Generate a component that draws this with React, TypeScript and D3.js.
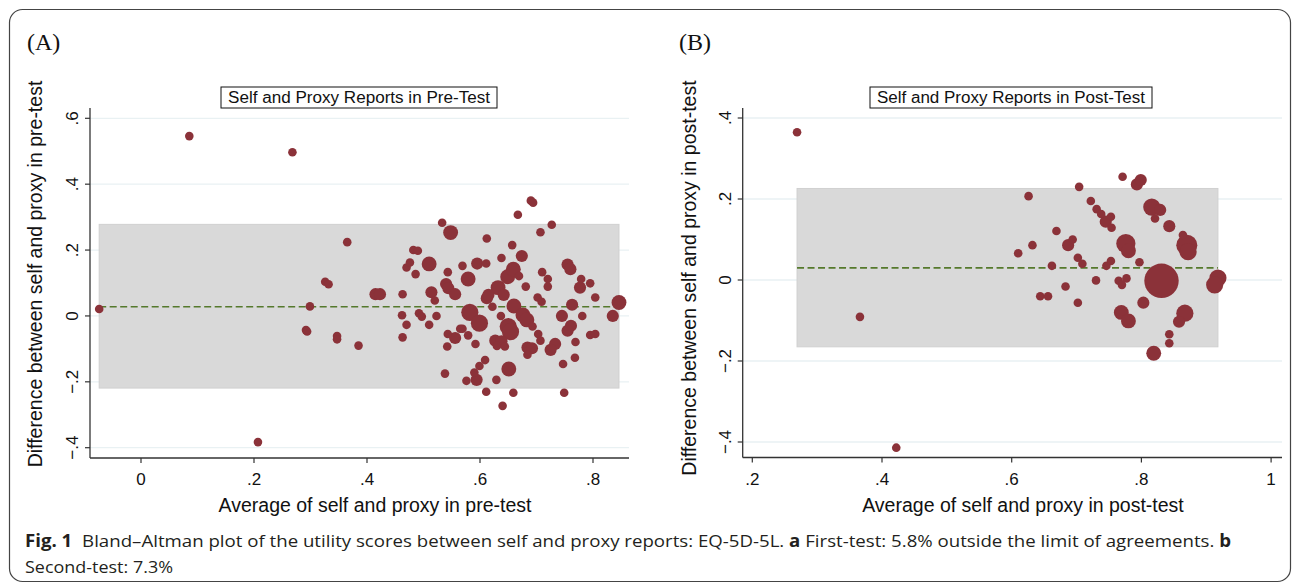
import React from 'react'
import * as d3 from 'd3'

// pre-test: average of self & proxy, difference, frequency weight
const preAvg = [-0.074, 0.0855, 0.268, 0.207, 0.365, 0.326, 0.332, 0.299, 0.292, 0.294, 0.347, 0.347, 0.385,
  0.415, 0.423, 0.463, 0.462, 0.470, 0.463, 0.470, 0.476, 0.482, 0.490, 0.486, 0.492, 0.497, 0.510, 0.510,
  0.514, 0.520, 0.523, 0.533, 0.548, 0.543, 0.540, 0.544, 0.556, 0.543, 0.556, 0.565, 0.569, 0.542, 0.538,
  0.569, 0.579, 0.579, 0.595, 0.611, 0.612, 0.582, 0.599, 0.592, 0.609, 0.599, 0.590, 0.576, 0.594, 0.611,
  0.612, 0.615, 0.622, 0.632, 0.642, 0.638, 0.657, 0.674, 0.667, 0.690, 0.694, 0.707, 0.727, 0.649, 0.659,
  0.669, 0.681, 0.660, 0.637, 0.650, 0.654, 0.676, 0.683, 0.693, 0.703, 0.707, 0.627, 0.638, 0.630, 0.644,
  0.651, 0.629, 0.659, 0.640, 0.684, 0.692, 0.684, 0.702, 0.709, 0.710, 0.720, 0.720, 0.733, 0.725, 0.747,
  0.749, 0.745, 0.761, 0.755, 0.769, 0.768, 0.763, 0.755, 0.760, 0.777, 0.779, 0.795, 0.781, 0.804, 0.795,
  0.804, 0.846, 0.835]
const preDiff = [0.021, 0.546, 0.497, -0.383, 0.224, 0.104, 0.096, 0.029, -0.043, -0.047, -0.061, -0.071, -0.090,
  0.066, 0.066, 0.066, 0.002, -0.027, -0.065, 0.147, 0.162, 0.200, 0.198, 0.127, 0.008, -0.002, 0.158, -0.027,
  0.072, 0.047, 0.000, 0.283, 0.253, 0.133, 0.097, 0.084, 0.066, -0.055, -0.067, -0.039, -0.039, -0.093, -0.175,
  0.152, 0.112, -0.059, 0.159, 0.159, 0.235, 0.011, -0.022, -0.085, -0.134, -0.152, -0.172, -0.197, -0.194, -0.230,
  0.054, 0.064, 0.028, 0.086, 0.064, 0.176, 0.215, 0.182, 0.307, 0.350, 0.344, 0.254, 0.277, 0.119, 0.142,
  0.121, 0.089, 0.030, 0.000, -0.032, -0.048, 0.003, -0.012, -0.032, -0.055, -0.075, -0.075, -0.077, -0.091, -0.093,
  -0.161, -0.194, -0.233, -0.273, -0.096, -0.098, -0.118, 0.056, 0.043, 0.133, 0.112, 0.089, -0.085, -0.103, -0.146,
  -0.233, 0.000, -0.030, -0.045, -0.079, -0.127, 0.034, 0.156, 0.142, 0.086, 0.112, 0.099, 0.000, 0.056, -0.058,
  -0.055, 0.041, 0.000]
const preN = [1, 1, 1, 1, 1, 1, 1, 1, 1, 1, 1, 1, 1,
  2, 2, 1, 1, 1, 1, 1, 1, 1, 1, 1, 1, 1, 3, 1,
  2, 1, 1, 1, 3, 1, 2, 2, 2, 1, 2, 1, 1, 1, 1,
  1, 3, 1, 2, 1, 1, 4, 4, 1, 1, 1, 1, 1, 2, 1,
  2, 2, 1, 3, 2, 1, 1, 2, 1, 1, 1, 1, 1, 3, 3,
  1, 1, 3, 1, 4, 4, 3, 3, 1, 1, 1, 2, 2, 1, 1,
  3, 1, 1, 1, 2, 2, 1, 1, 1, 1, 1, 1, 2, 2, 1,
  1, 2, 2, 2, 1, 1, 2, 2, 2, 2, 1, 1, 1, 1, 1,
  1, 3, 2]
const preMean = 0.028
const preLimits = [-0.219, 0.278]

// post-test
const postAvg = [0.269, 0.366, 0.422, 0.610, 0.626, 0.632, 0.669, 0.662, 0.644, 0.656, 0.683, 0.702, 0.687,
  0.694, 0.702, 0.709, 0.704, 0.722, 0.731, 0.738, 0.745, 0.753, 0.754, 0.746, 0.753, 0.730, 0.765, 0.777,
  0.770, 0.776, 0.780, 0.771, 0.793, 0.799, 0.797, 0.769, 0.780, 0.803, 0.819, 0.816, 0.829, 0.821, 0.843,
  0.831, 0.843, 0.843, 0.870, 0.864, 0.872, 0.867, 0.858, 0.918, 0.913]
const postDiff = [0.365, -0.091, -0.414, 0.066, 0.207, 0.086, 0.121, 0.035, -0.040, -0.040, -0.016, -0.056, 0.086,
  0.100, 0.055, 0.040, 0.230, 0.195, 0.175, 0.163, 0.144, 0.156, 0.129, 0.035, 0.047, -0.001, -0.002, 0.004,
  -0.012, 0.090, 0.072, 0.255, 0.236, 0.247, 0.044, -0.080, -0.101, -0.056, -0.181, 0.180, 0.173, 0.152, 0.133,
  -0.002, -0.134, -0.156, 0.086, 0.111, 0.070, -0.082, -0.103, 0.005, -0.012]
const postN = [1, 1, 1, 1, 1, 1, 1, 1, 1, 1, 1, 1, 2,
  1, 1, 1, 1, 1, 1, 1, 2, 1, 1, 1, 1, 1, 1, 1,
  1, 5, 3, 1, 2, 2, 1, 3, 3, 2, 3, 4, 2, 1, 2,
  16, 1, 1, 6, 1, 4, 4, 2, 4, 4]
const postMean = 0.030
const postLimits = [-0.165, 0.226]

const preXTicks = [0, 0.2, 0.4, 0.6, 0.8]
const preYTicks = [-0.4, -0.2, 0, 0.2, 0.4, 0.6]
const postXTicks = [0.2, 0.4, 0.6, 0.8, 1]
const postYTicks = [-0.4, -0.2, 0, 0.2, 0.4]

const MARKER = '#8b3239'
const fmt = (v: number) => {
  if (Math.abs(v) < 1e-9) return '0'
  if (Math.abs(v - 1) < 1e-9) return '1'
  const s = d3.format('.1f')(v)
  return s.replace('0.', '.')
}

const rScale = d3.scaleSqrt().domain([0, 1]).range([0, 4.3])

type PanelProps = {
  avg: number[]; diff: number[]; n: number[]; mean: number; limits: number[]
  xTicks: number[]; yTicks: number[]
  xRange: number[]; yRange: number[]; xDomain: number[]; yDomain: number[]
  plot: { l: number; r: number; t: number; b: number }
  letter: string; letterX: number
  title: string; titleBox: number[]
  xTitle: string; xTitleX: number
  yTitle: string; yTitleX: number; yTitleY: number
  yLabelX: number
}

function Panel(p: PanelProps) {
  const x = d3.scaleLinear().domain(p.xDomain).range(p.xRange)
  const y = d3.scaleLinear().domain(p.yDomain).range(p.yRange)
  const [x0, x1] = d3.extent(p.avg) as [number, number]
  const idx = d3.range(p.avg.length).sort((a, b) => p.n[b] - p.n[a])
  const font = '"Liberation Sans", Arial, sans-serif'
  return (
    <g>
      <text x={p.letterX} y={50} fontFamily='"Liberation Serif", "Times New Roman", serif' fontSize={24} fill="#111">{p.letter}</text>
      {p.yTicks.map(t => (
        <line key={'g' + t} x1={p.plot.l} x2={p.plot.r} y1={y(t)} y2={y(t)} stroke="#e9f1f3" strokeWidth={1.3} />
      ))}
      <rect x={x(x0)} y={y(p.limits[1])} width={x(x1) - x(x0)} height={y(p.limits[0]) - y(p.limits[1])}
        fill="#d9d9d9" stroke="#d0d0d0" strokeWidth={1} />
      <line x1={x(x0)} x2={x(x1)} y1={y(p.mean)} y2={y(p.mean)} stroke="#55792c" strokeWidth={1.6} strokeDasharray="7,3.5" />
      {idx.map(i => (
        <circle key={i} cx={x(p.avg[i])} cy={y(p.diff[i])} r={rScale(p.n[i])} fill={MARKER} />
      ))}
      {/* axes */}
      <line x1={p.plot.l} x2={p.plot.l} y1={p.plot.t} y2={p.plot.b} stroke="#333" strokeWidth={1.3} />
      <line x1={p.plot.l} x2={p.plot.r} y1={p.plot.b} y2={p.plot.b} stroke="#333" strokeWidth={1.3} />
      {p.yTicks.map(t => (
        <g key={'y' + t}>
          <line x1={p.plot.l - 5} x2={p.plot.l} y1={y(t)} y2={y(t)} stroke="#333" strokeWidth={1.2} />
          <text transform={`translate(${p.yLabelX},${y(t)}) rotate(-90)`} textAnchor="middle"
            fontFamily={font} fontSize={17} fill="#111">{fmt(t)}</text>
        </g>
      ))}
      {p.xTicks.map(t => (
        <g key={'x' + t}>
          <line x1={x(t)} x2={x(t)} y1={p.plot.b} y2={p.plot.b + 5} stroke="#333" strokeWidth={1.2} />
          <text x={x(t)} y={485} textAnchor="middle" fontFamily={font} fontSize={17} fill="#111">{fmt(t)}</text>
        </g>
      ))}
      <text x={p.xTitleX} y={512} textAnchor="middle" fontFamily={font} fontSize={19.5} fill="#111">{p.xTitle}</text>
      <text transform={`translate(${p.yTitleX},${p.yTitleY}) rotate(-90)`} textAnchor="middle"
        fontFamily={font} fontSize={19.5} fill="#111">{p.yTitle}</text>
      <rect x={p.titleBox[0]} y={p.titleBox[1]} width={p.titleBox[2]} height={p.titleBox[3]}
        fill="#fff" stroke="#111" strokeWidth={1} />
      <text x={p.titleBox[0] + p.titleBox[2] / 2} y={p.titleBox[1] + 16} textAnchor="middle"
        fontFamily={font} fontSize={16} fill="#111" textLength={p.titleBox[2] - 14}
        lengthAdjust="spacingAndGlyphs">{p.title}</text>
    </g>
  )
}

export default function App() {
  const capFont = '"Open Sans", "Noto Sans", sans-serif'
  return (
    <svg width={1292} height={583} style={{ position: 'absolute', left: 0, top: 0, background: '#fff' }}>
      <rect x={0} y={0} width={1292} height={583} fill="#fff" />
      <rect x={9.5} y={9.5} width={1281} height={572} rx={13} fill="none" stroke="#444" strokeWidth={1.2} />
      <Panel avg={preAvg} diff={preDiff} n={preN} mean={preMean} limits={preLimits}
        xTicks={preXTicks} yTicks={preYTicks}
        xDomain={[0, 0.8]} xRange={[141, 593]} yDomain={[-0.4, 0.6]} yRange={[447.7, 118.3]}
        plot={{ l: 90, r: 629, t: 108, b: 458 }}
        letter="(A)" letterX={27}
        title="Self and Proxy Reports in Pre-Test" titleBox={[221, 87, 276, 21]}
        xTitle="Average of self and proxy in pre-test" xTitleX={375}
        yTitle="Difference between self and proxy in pre-test" yTitleX={42} yTitleY={274}
        yLabelX={78} />
      <Panel avg={postAvg} diff={postDiff} n={postN} mean={postMean} limits={postLimits}
        xTicks={postXTicks} yTicks={postYTicks}
        xDomain={[0.2, 1]} xRange={[752.3, 1271.1]} yDomain={[-0.4, 0.4]} yRange={[442, 118]}
        plot={{ l: 742.7, r: 1282, t: 108, b: 457.5 }}
        letter="(B)" letterX={679}
        title="Self and Proxy Reports in Post-Test" titleBox={[870, 87, 282, 21]}
        xTitle="Average of self and proxy in post-test" xTitleX={1023}
        yTitle="Difference between self and proxy in post-test" yTitleX={696} yTitleY={278}
        yLabelX={731} />
      <text x={25} y={547} fontFamily={capFont} fontSize={17} fill="#231f20" textLength={1206} lengthAdjust="spacingAndGlyphs">
        <tspan fontWeight="bold">Fig. 1</tspan>
        <tspan dx={9}>{'Bland–Altman plot of the utility scores between self and proxy reports: EQ-5D-5L. '}</tspan>
        <tspan fontWeight="bold">a</tspan>
        <tspan>{' First-test: 5.8% outside the limit of agreements. '}</tspan>
        <tspan fontWeight="bold">b</tspan>
      </text>
      <text x={25} y={573} fontFamily={capFont} fontSize={17} fill="#231f20" textLength={148} lengthAdjust="spacingAndGlyphs">
        Second-test: 7.3%
      </text>
    </svg>
  )
}
